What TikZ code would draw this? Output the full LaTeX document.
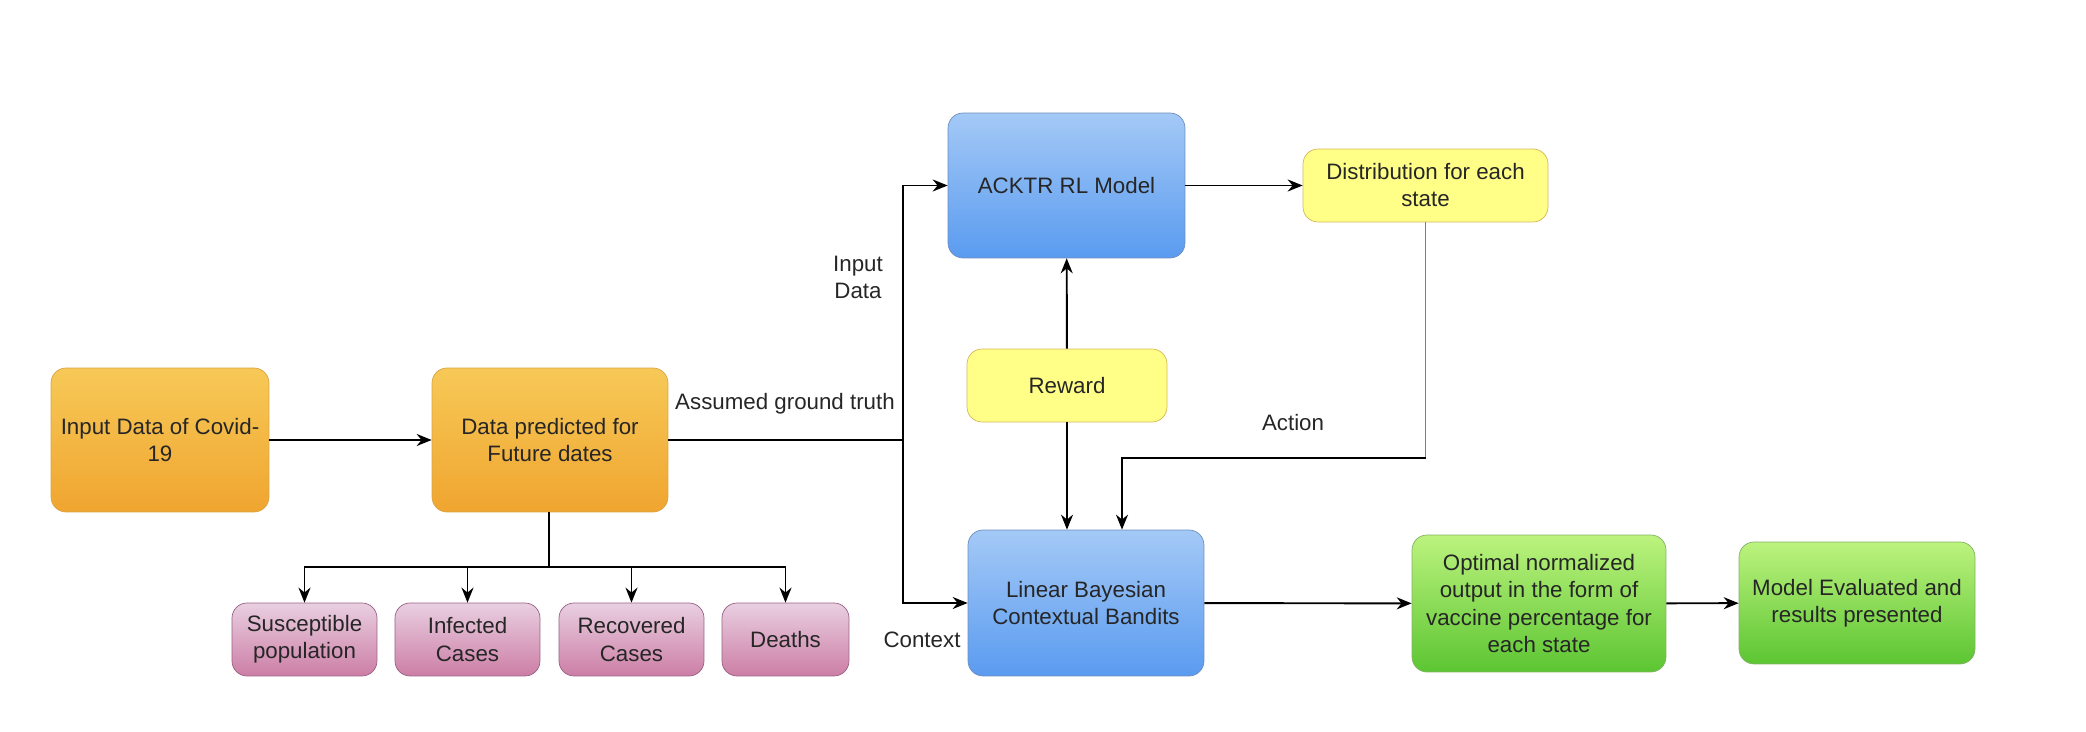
\documentclass[tikz,border=0pt]{standalone}
\usepackage{fontspec}
\setmainfont{Liberation Sans}
\usepackage{xcolor}
\usetikzlibrary{arrows.meta}

\definecolor{orangetop}{HTML}{F7C957}
\definecolor{orangebot}{HTML}{F0A530}
\definecolor{orangeline}{HTML}{D9A441}
\definecolor{bluetop}{HTML}{A4C9F6}
\definecolor{bluebot}{HTML}{5A9BF0}
\definecolor{blueline}{HTML}{6C8EBF}
\definecolor{pinktop}{HTML}{E9CFE1}
\definecolor{pinkbot}{HTML}{CC7EA5}
\definecolor{pinkline}{HTML}{996185}
\definecolor{greentop}{HTML}{BCF37E}
\definecolor{greenbot}{HTML}{5CC532}
\definecolor{greenline}{HTML}{82B366}
\definecolor{yellowfill}{HTML}{FFFF88}
\definecolor{yellowline}{HTML}{D6B656}

\tikzset{
  box/.style={rounded corners=0.3cm, align=center, inner sep=2pt,
    font=\fontsize{12.7}{15.4}\selectfont, text=black!85},
  orangebox/.style={box, draw=orangeline, top color=orangetop, bottom color=orangebot},
  bluebox/.style={box, draw=blueline, top color=bluetop, bottom color=bluebot},
  pinkbox/.style={box, draw=pinkline, top color=pinktop, bottom color=pinkbot,
    minimum width=2.9cm, minimum height=1.46cm},
  greenbox/.style={box, draw=greenline, top color=greentop, bottom color=greenbot},
  yellowbox/.style={box, draw=yellowline, fill=yellowfill, minimum height=1.46cm},
  lbl/.style={font=\fontsize{12.7}{15.4}\selectfont, text=black!85, align=center},
  link/.style={line width=1.1pt, -{Stealth[length=0.3cm, width=0.24cm]}}
}

\begin{document}
\begin{tikzpicture}[x=0.02cm, y=-0.02cm]
\useasboundingbox (0,0) rectangle (2086,732);

% Input and prediction
\node[orangebox, minimum width=4.36cm, minimum height=2.88cm] (input) at (160,440) {Input Data of Covid-\\19};
\node[orangebox, minimum width=4.72cm, minimum height=2.88cm] (predicted) at (550,440) {Data predicted for\\Future dates};

% Predicted quantities
\node[pinkbox] (suscept) at (304.5,639.5) {Susceptible\\population};
\node[pinkbox] (infected) at (467.5,639.5) {Infected\\Cases};
\node[pinkbox] (recovered) at (631.5,639.5) {Recovered\\Cases};
\node[pinkbox, minimum width=2.54cm] (deaths) at (785.5,639.5) {Deaths};

% RL part
\node[bluebox, minimum width=4.74cm, minimum height=2.9cm] (acktr) at (1066.5,185.5) {ACKTR RL Model};
\node[yellowbox, minimum width=4.9cm] (dist) at (1425.5,185.5) {Distribution for each\\state};
\node[yellowbox, minimum width=4.0cm] (reward) at (1067,385.5) {Reward};
\node[bluebox, minimum width=4.72cm, minimum height=2.92cm] (bandit) at (1086,603) {Linear Bayesian\\Contextual Bandits};

% Output
\node[greenbox, minimum width=5.08cm, minimum height=2.74cm] (optimal) at (1539,603.5) {Optimal normalized\\output in the form of\\vaccine percentage for\\each state};
\node[greenbox, minimum width=4.72cm, minimum height=2.44cm] (evaluated) at (1857,603) {Model Evaluated and\\results presented};

% Helper points
\coordinate (split) at (903,440);
\coordinate (tree) at (549,567);
\coordinate (act) at (1425.5,458);

% Labels
\node[lbl] (truth) at (785,404) {Assumed ground truth};
\node[lbl] (inlbl) at (858,277) {Input\\Data};
\node[lbl] (ctx) at (922,640) {Context};
\node[lbl] (actlbl) at (1293,423) {Action};

% Arrows
\draw[link] (input) -- (predicted);
\draw[line width=1.1pt] (predicted) -- (split);
\draw[link] (split) |- (acktr.west);
\draw[link] (split) |- (bandit.west);
\draw[line width=1.1pt] (predicted.south -| tree) -- (tree);
\draw[link] (tree) -| (suscept.north);
\draw[link] (tree) -| (infected.north);
\draw[link] (tree) -| (recovered.north);
\draw[link] (tree) -| (deaths.north);
\draw[link] (acktr) -- (dist);
\draw[link] (reward) -- (acktr);
\draw[link] (reward) -- (bandit.north -| reward);
\draw[line width=1.1pt, gray] (dist) -- (act);
\draw[link] (act) -| (bandit.north -| 1122,0);
\draw[link] (bandit) -- (optimal);
\draw[link] (optimal) -- (evaluated);
\end{tikzpicture}
\end{document}
